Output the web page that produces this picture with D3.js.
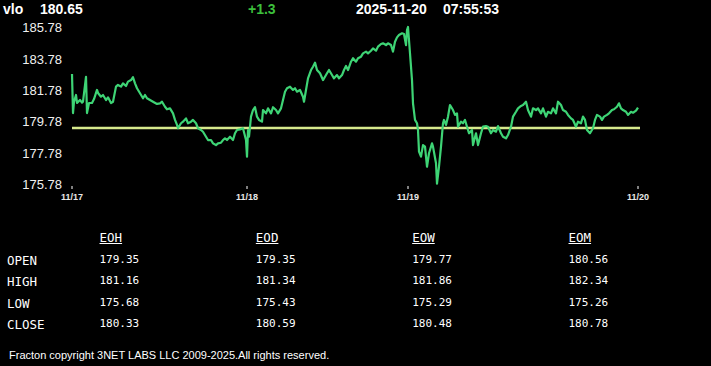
<!DOCTYPE html>
<html><head><meta charset="utf-8">
<script src="https://cdn.jsdelivr.net/npm/d3@7"></script>
<style>
html,body{margin:0;padding:0;background:#000;}
svg{display:block;}
</style></head>
<body>
<svg id="chart" width="711" height="366"></svg>
<script>
const symbol = "vlo";
const lastPrice = "180.65";
const change = "+1.3";
const stamp = "2025-11-20";
const clock = "07:55:53";
const refPrice = 179.35;
const yTicks = [185.78, 183.78, 181.78, 179.78, 177.78, 175.78];
const dayLabels = ["11/17", "11/18", "11/19", "11/20"];
const dayBars = [0, 175, 336, 566];
const bars = [0,1,2,4,5,8,10,11,14,15,17,20,22,25,26,29,31,34,36,39,41,44,46,49,51,54,56,59,61,63,65,68,71,73,75,78,81,85,88,90,93,95,98,101,103,105,106,109,111,114,116,119,121,124,126,129,131,134,136,139,141,144,146,149,151,153,155,158,161,163,165,168,171,174,175,176,177,179,181,183,185,187,190,191,194,196,199,201,204,206,209,211,213,215,218,221,223,225,228,231,232,234,236,239,241,243,245,248,251,253,255,257,260,262,265,267,270,272,274,276,279,281,284,286,289,291,294,296,299,301,304,306,309,311,314,316,319,321,323,325,327,330,332,334,335,336,338,340,341,343,345,346,347,349,351,353,355,357,360,361,364,365,367,369,371,372,374,376,378,381,383,385,386,389,391,393,395,397,400,401,404,406,409,411,414,416,419,421,424,426,429,431,434,436,439,441,444,446,449,451,454,456,459,461,464,466,469,471,474,476,479,481,484,486,489,491,494,496,499,501,504,506,509,511,513,515,518,521,523,525,528,530,532,535,537,540,542,545,547,549,551,554,556,559,561,564,566];
const prices = [182.79,180.30,181.02,181.45,180.94,181.13,180.96,181.02,182.61,180.30,180.94,180.94,181.19,181.77,181.58,181.34,181.45,181.13,181.30,180.94,181.02,181.98,182.09,181.98,182.19,182.02,182.30,182.40,182.58,182.19,181.88,181.56,181.24,181.45,181.24,181.13,181.02,180.88,180.92,181.02,180.70,180.54,180.60,180.28,179.86,179.54,179.33,179.65,179.75,179.96,179.65,179.75,179.86,179.65,179.33,179.22,179.11,178.79,178.58,178.58,178.37,178.26,178.37,178.41,178.58,178.69,178.58,178.79,178.58,179.01,179.22,179.26,179.33,178.58,177.52,179.22,178.79,180.07,180.49,180.67,180.07,179.86,179.75,180.49,180.28,180.60,180.28,180.67,180.49,180.28,180.60,181.13,181.66,181.88,181.98,181.77,181.88,181.66,181.77,181.34,181.02,181.77,182.51,183.04,183.25,183.51,183.04,182.83,182.40,182.61,182.83,183.04,182.72,182.51,182.72,182.51,182.72,183.04,183.30,183.04,183.57,183.79,183.57,183.79,183.89,184.10,184.21,184.10,184.27,184.42,184.27,184.53,184.70,184.74,184.63,184.74,184.63,184.21,184.84,185.12,185.27,185.38,185.33,184.63,185.59,185.78,184.10,182.40,180.92,179.86,179.65,179.22,177.84,177.52,178.26,178.16,176.88,177.74,178.37,178.16,177.10,175.80,176.88,178.16,179.65,179.86,179.54,180.07,180.81,180.49,180.18,180.28,179.43,179.75,179.65,179.86,179.43,179.01,179.22,178.26,179.01,178.26,179.01,179.43,179.47,179.43,179.01,179.22,179.11,179.47,179.01,178.79,178.69,178.90,179.43,180.07,180.38,180.60,180.75,180.81,181.02,180.49,180.07,180.60,180.49,180.60,180.28,180.60,180.07,180.38,180.28,180.60,180.28,181.02,180.81,180.49,180.38,180.18,179.96,179.86,179.43,179.75,179.65,180.07,179.86,179.22,179.01,179.33,179.86,180.18,180.07,179.86,180.07,180.18,180.28,180.49,180.54,180.70,180.92,180.60,180.49,180.38,180.18,180.38,180.32,180.45,180.65];
const tableCols = ["EOH", "EOD", "EOW", "EOM"];
const tableRows = ["OPEN", "HIGH", "LOW", "CLOSE"];
const eoh = ["179.35", "181.16", "175.68", "180.33"];
const eod = ["179.35", "181.34", "175.43", "180.59"];
const eow = ["179.77", "181.86", "175.29", "180.48"];
const eom = ["180.56", "182.34", "175.26", "180.78"];
const footer = "Fracton copyright 3NET LABS LLC 2009-2025.All rights reserved.";

const svg = d3.select("#chart");
const sans = "Arial, 'Liberation Sans', sans-serif";
const mono = "'DejaVu Sans Mono', 'Liberation Mono', monospace";

svg.append("rect").attr("width", 711).attr("height", 366).attr("fill", "#000");

// header
const head = svg.append("g").attr("font-family", sans).attr("font-weight", "bold").attr("font-size", 14);
head.append("text").attr("x", 3).attr("y", 13.5).attr("fill", "#fff").text(symbol);
head.append("text").attr("x", 40).attr("y", 13.5).attr("fill", "#fff").text(lastPrice);
head.append("text").attr("x", 248).attr("y", 13.5).attr("fill", "#3cbf3c").text(change);
head.append("text").attr("x", 356).attr("y", 13.5).attr("fill", "#fff").text(stamp);
head.append("text").attr("x", 443).attr("y", 13.5).attr("fill", "#fff").text(clock);

// scales
const x = d3.scaleLinear().domain([dayBars[0], dayBars[dayBars.length - 1]]).range([72, 638]);
const y = d3.scaleLinear().domain([175.78, 185.78]).range([184, 27]);

// y axis labels
const yAxis = d3.axisLeft(y).tickValues(yTicks).tickFormat(d3.format(".2f")).tickSize(0).tickPadding(0);
const yg = svg.append("g").attr("transform", "translate(62,0)").call(yAxis);
yg.select(".domain").remove();
yg.selectAll("text").attr("fill", "#f0f0f0").attr("font-family", sans).attr("font-size", 13).attr("dy", "0.36em");

// x axis
const xAxis = d3.axisBottom(x).tickValues(dayBars).tickFormat((d, i) => dayLabels[i]).tickSize(3).tickPadding(5);
const xg = svg.append("g").attr("transform", "translate(-0.5,186)").call(xAxis);
xg.select(".domain").remove();
xg.selectAll("line").attr("stroke", "#fff");
xg.selectAll("text").attr("fill", "#e8e8e8").attr("font-family", sans).attr("font-size", 9).attr("font-weight", "bold");

// reference line
svg.append("line").attr("x1", x(dayBars[0])).attr("x2", x(dayBars[dayBars.length - 1]) + 2)
  .attr("y1", y(refPrice)).attr("y2", y(refPrice))
  .attr("stroke", "#d6e98c").attr("stroke-width", 2.5);

// price line
const pts = bars.map((b, i) => [b, prices[i]]);
svg.append("path").datum(pts)
  .attr("fill", "none").attr("stroke", "#3ed475").attr("stroke-width", 2.2).attr("stroke-linejoin", "round")
  .attr("d", d3.line().x(d => x(d[0])).y(d => y(d[1])));

// table
const colX = d3.scalePoint().domain(tableCols).range([99.5, 568.5]);
const rowY = d3.scalePoint().domain(tableRows).range([262.5, 327]);
const tg = svg.append("g").attr("font-family", mono).attr("fill", "#fff");
tableCols.forEach(c => {
  const t = tg.append("text").attr("x", colX(c)).attr("y", 241.5).attr("font-size", 12.5).text(c);
  const w = t.node().getComputedTextLength();
  tg.append("line").attr("x1", colX(c)).attr("x2", colX(c) + w).attr("y1", 243.5).attr("y2", 243.5)
    .attr("stroke", "#fff").attr("stroke-width", 1);
});
tableRows.forEach(r => {
  tg.append("text").attr("x", 7).attr("y", rowY(r) + 2).attr("font-size", 12.5).text(r);
});
const cols = [eoh, eod, eow, eom];
cols.forEach((vals, ci) => {
  vals.forEach((v, ri) => {
    tg.append("text").attr("x", colX(tableCols[ci])).attr("y", rowY(tableRows[ri])).attr("font-size", 11).text(v);
  });
});

// footer
svg.append("text").attr("x", 9).attr("y", 359).attr("fill", "#fff").attr("font-family", sans).attr("font-size", 11).text(footer);
</script>
</body></html>
